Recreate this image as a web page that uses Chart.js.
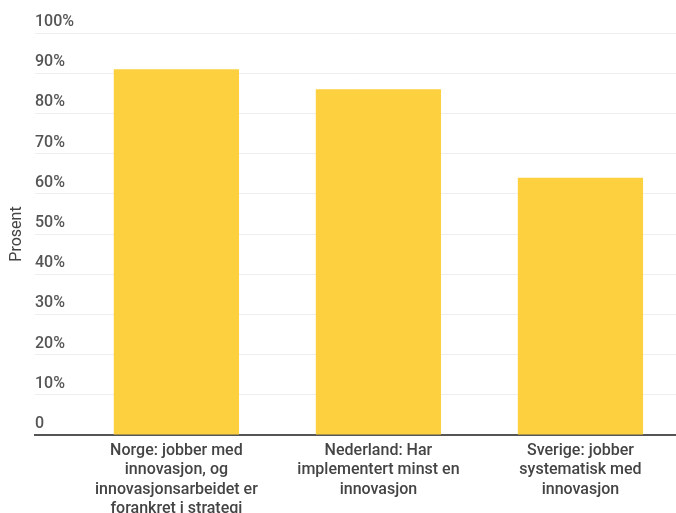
<!DOCTYPE html>
<html>
<head>
<meta charset="utf-8">
<script src="https://cdn.jsdelivr.net/npm/chart.js@4.4.1/dist/chart.umd.min.js"></script>
<style>
  html, body { margin: 0; padding: 0; background: #fff; }
  #wrap { width: 676px; height: 513px; position: relative; }
</style>
</head>
<body>
<div id="wrap"><canvas id="c"></canvas></div>
<script>
const categories = [
  ["Norge: jobber med", "innovasjon, og", "innovasjonsarbeidet er", "forankret i strategi"],
  ["Nederland: Har", "implementert minst en", "innovasjon"],
  ["Sverige: jobber", "systematisk med", "innovasjon"]
];
const values = [91, 86, 64];
const yTicks = [0, 10, 20, 30, 40, 50, 60, 70, 80, 90, 100];
const yTitle = "Prosent";

const points = values.map((v, i) => ({ x: i, y: v }));

new Chart(document.getElementById('c'), {
  type: 'bar',
  data: {
    datasets: [{
      data: points,
      backgroundColor: '#fdd03f',
      borderWidth: 0,
      barPercentage: 0.62,
      categoryPercentage: 1.0
    }]
  },
  options: {
    responsive: true,
    maintainAspectRatio: false,
    animation: false,
    layout: { padding: { top: 33, right: 0, bottom: 0, left: 0 } },
    plugins: { legend: { display: false }, tooltip: { enabled: false } },
    scales: {
      x: {
        type: 'linear',
        offset: false,
        min: -0.7,
        max: 2.473,
        afterBuildTicks: (scale) => { scale.ticks = categories.map((c, i) => ({ value: i })); },
        afterFit: (scale) => { scale.height = 78; },
        grid: { display: false, drawTicks: false },
        border: { display: true, color: '#555', width: 2 },
        ticks: {
          autoSkip: false,
          maxRotation: 0,
          padding: 6,
          color: '#444',
          font: { family: 'Roboto', size: 16, weight: '500', lineHeight: 1.22 },
          callback: (v) => categories[v] || ''
        }
      },
      y: {
        min: 0,
        max: 100,
        afterBuildTicks: (scale) => { scale.ticks = yTicks.map(v => ({ value: v })); },
        afterFit: (scale) => { scale.width = 35; },
        grid: { color: '#eeeeee', lineWidth: 1, drawTicks: false },
        border: { display: false },
        title: {
          display: true,
          text: yTitle,
          color: '#444',
          font: { family: 'Roboto', size: 16 },
          padding: { top: 7, bottom: 0 }
        },
        ticks: {
          mirror: true,
          padding: 0,
          labelOffset: -11,
          color: '#555',
          font: { family: 'Roboto', size: 16, weight: '500' },
          callback: (v) => v === 0 ? '0' : v + '%'
        }
      }
    }
  }
});
</script>
</body>
</html>
